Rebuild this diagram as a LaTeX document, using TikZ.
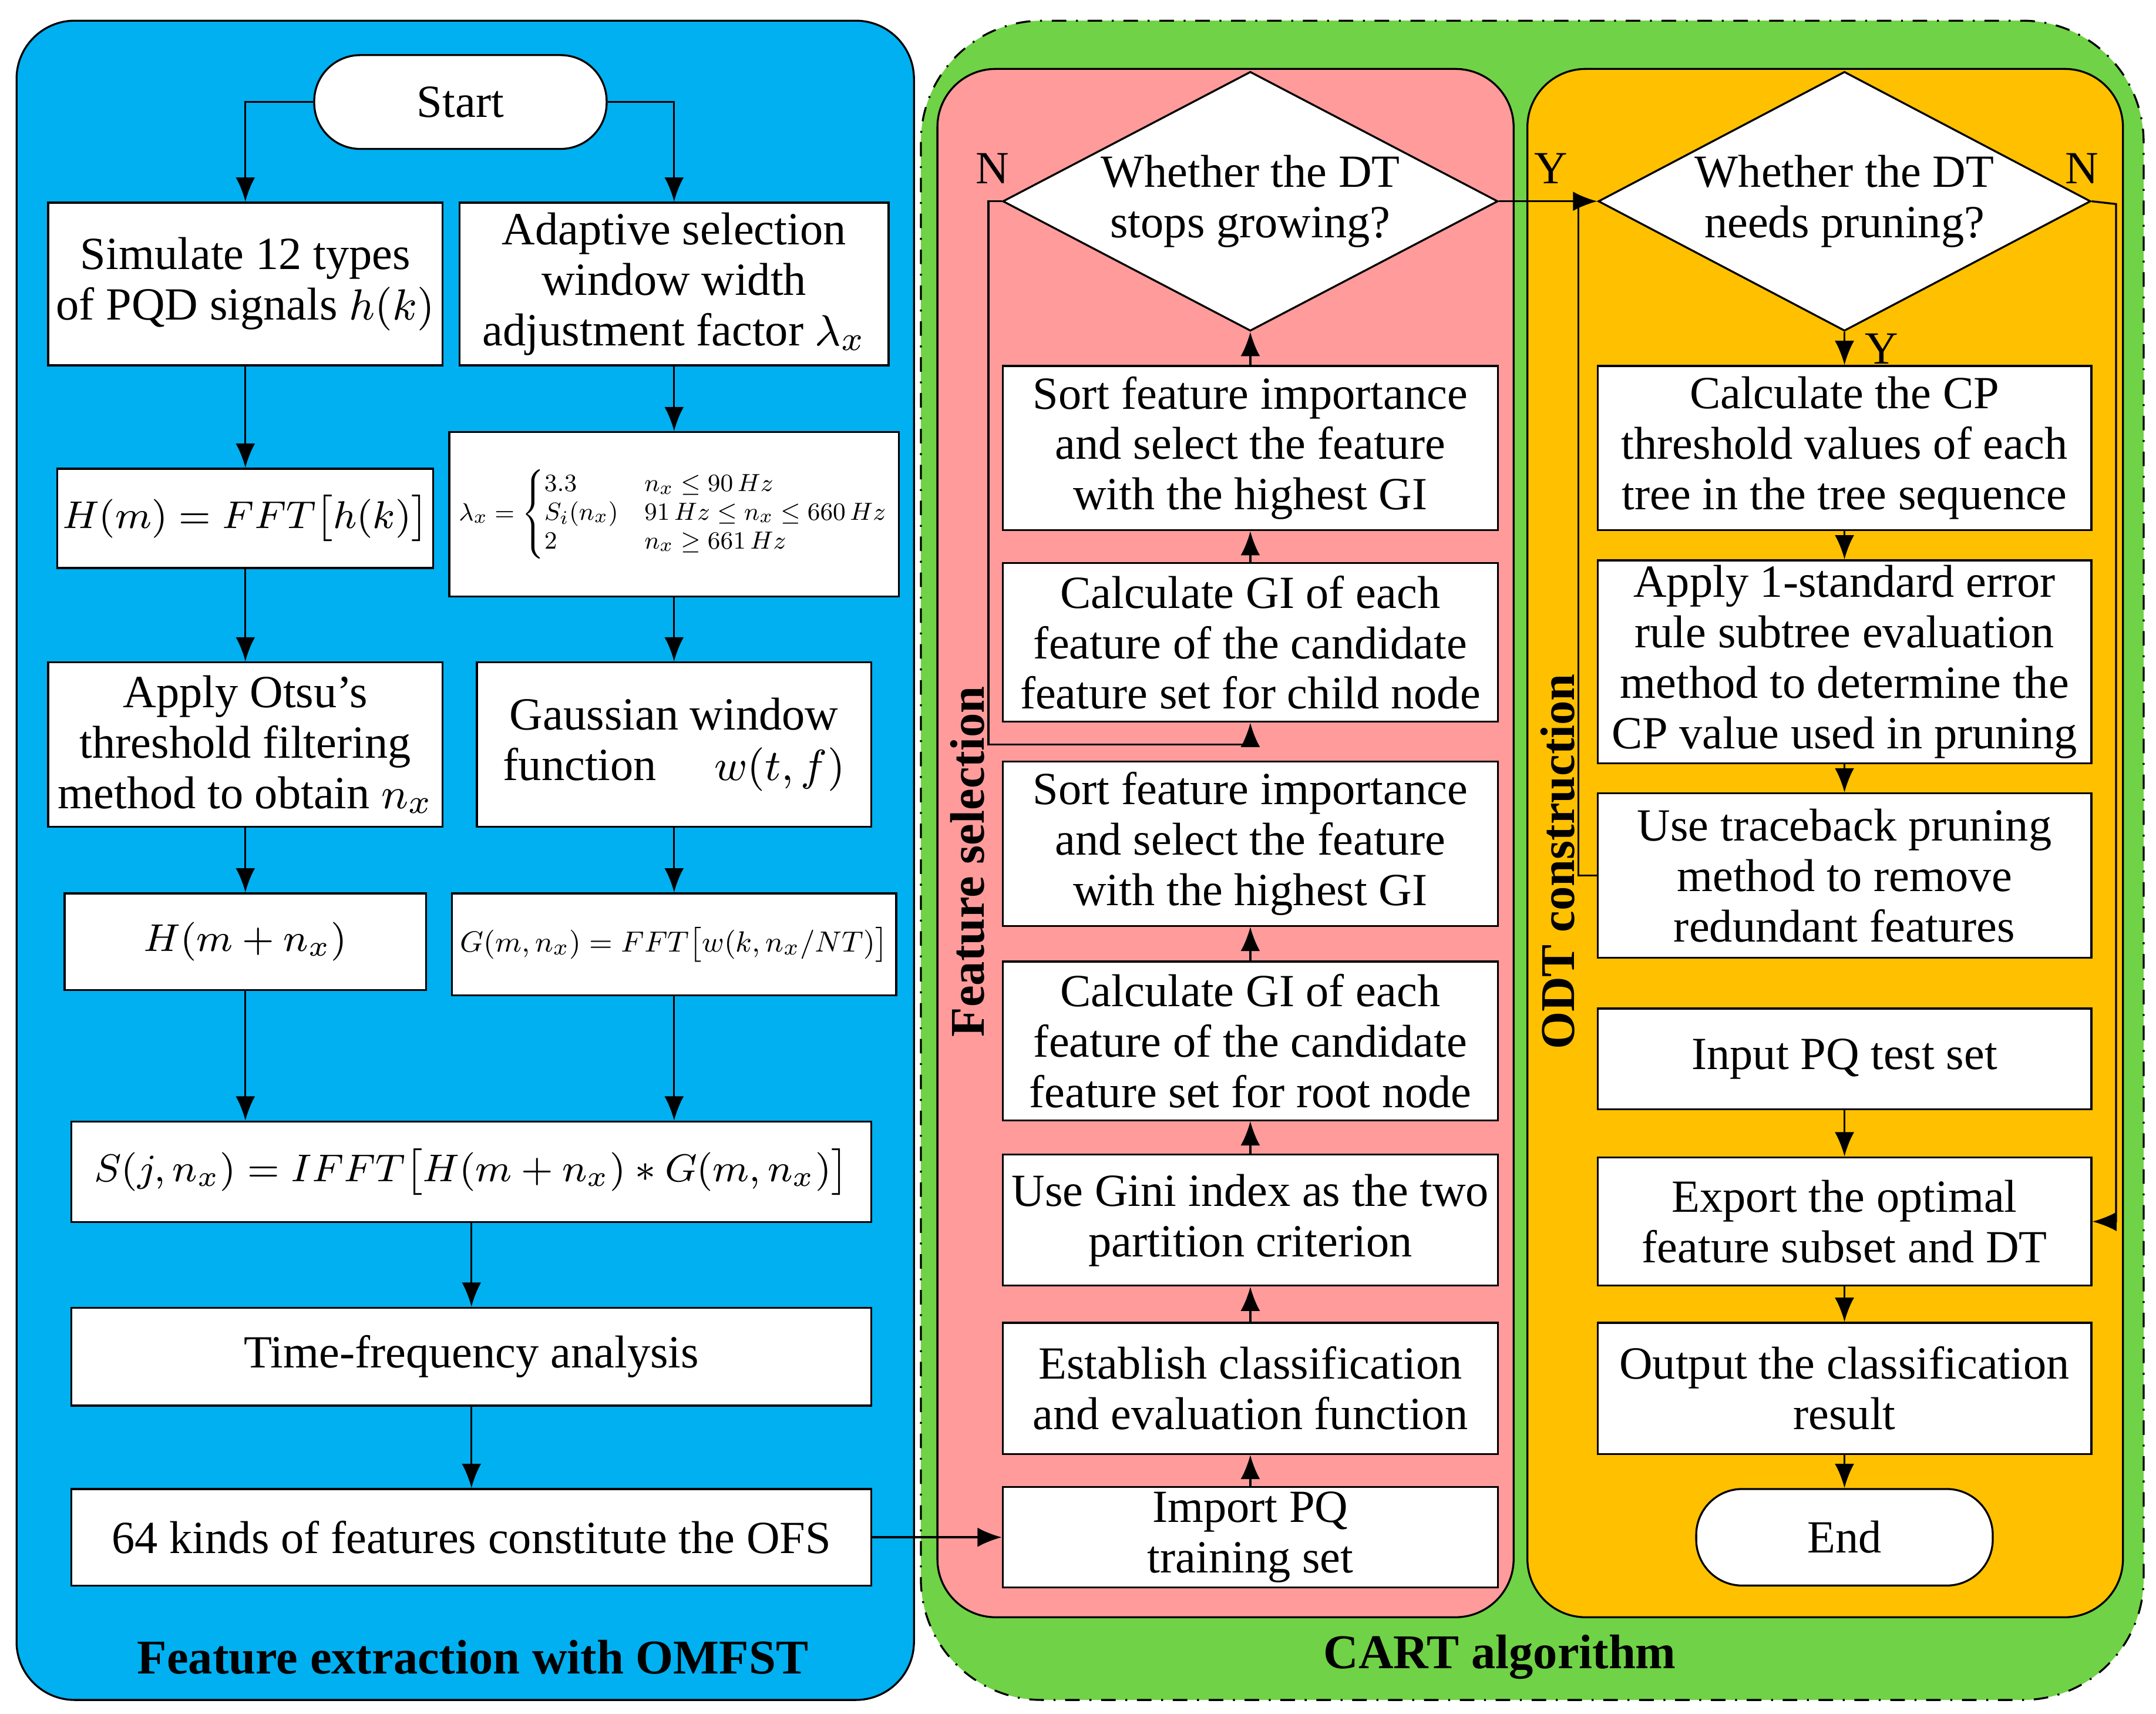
\documentclass[tikz,border=0pt]{standalone}
\usepackage{amsmath}
\usepackage{graphicx}
\usepackage{fontspec}
\setmainfont{Liberation Serif}
\usepackage{tikz}
\usetikzlibrary{
	positioning,
	arrows.meta,
	calc,
	shapes.geometric
}
\definecolor{panelblue}{RGB}{0,176,240}
\definecolor{panelgreen}{RGB}{112,210,70}
\definecolor{panelpink}{RGB}{255,155,155}
\definecolor{panelorange}{RGB}{255,192,0}

\begin{document}
\begin{tikzpicture}[
	x=0.01cm, y=-0.01cm,
	>={Latex[length=5pt,width=4pt]},
	font=\fontsize{9.5}{10.4}\selectfont,
	box/.style={draw, fill=white, align=center, inner sep=1pt},
	mathbox/.style={box, font=\fontsize{8}{9}\selectfont},
	term/.style={draw, fill=white, rounded corners=9.5pt, align=center},
	decision/.style={draw, fill=white, diamond, aspect=1.9, align=center, inner sep=0pt},
	arr/.style={->, thin},
	panel/.style={draw, rounded corners=12pt},
	title/.style={font=\fontsize{10}{12}\selectfont\bfseries}
	]
	
	\useasboundingbox (0,0) rectangle (1564,1243);
	
	% --- Pannelli ---
	\draw[panel, fill=panelblue] (12,15) rectangle (663,1233);
	\draw[panel, fill=panelgreen, dash dot, rounded corners=25pt] (668,15) rectangle (1555,1233);
	\draw[panel, fill=panelpink] (680,50) rectangle (1098,1173);
	\draw[panel, fill=panelorange] (1108,50) rectangle (1540,1173);
	
	\node[title] (tomf) at (343,1202) {Feature extraction with OMFST};
	\node[title] (tcart) at (1088,1202) {CART algorithm};
	\node[title, rotate=90] (tfs) at (702,625) {Feature selection};
	\node[title, rotate=90] (todt) at (1130,625) {ODT construction};
	
	% ==================================================================
	% --- Estrazione delle feature (Sinistra) ---
	% ==================================================================
	\node[term, minimum width=2.12cm, minimum height=0.68cm] (start) at (334,74) {Start};
	\node[box, minimum width=2.86cm, minimum height=1.18cm] (sim) at (178,206) {Simulate 12 types\\of PQD signals $h(k)$};
	\node[box, minimum width=3.11cm, minimum height=1.18cm] (adapt) at (489,206) {Adaptive selection\\window width\\adjustment factor $\lambda_x$};
	\node[mathbox, minimum width=2.61cm, minimum height=0.72cm] (hm) at (178,376) {$H(m)=FFT\big[h(k)\big]$};
	\node[box, minimum width=3.26cm, minimum height=1.19cm] (lam) at (489,373)
		{\resizebox{3.12cm}{!}{$\lambda_x=\left\{\begin{array}{@{}l@{\quad}l@{}}3.3 & n_x\le 90\,Hz\\ S_i(n_x) & 91\,Hz\le n_x\le 660\,Hz\\ 2 & n_x\ge 661\,Hz\end{array}\right.$}};
	\node[box, minimum width=2.86cm, minimum height=1.19cm] (otsu) at (178,540) {Apply Otsu's\\threshold filtering\\method to obtain $n_x$};
	\node[box, minimum width=2.86cm, minimum height=1.19cm] (gauss) at (489,540) {Gaussian window\\function \quad $w(t,f)$};
	\node[mathbox, minimum width=2.62cm, minimum height=0.70cm] (hmn) at (178,683) {$H(m+n_x)$};
	\node[box, minimum width=3.22cm, minimum height=0.74cm] (gmn) at (489,685) {\resizebox{3.1cm}{!}{$G(m,n_x)=FFT\big[w(k,n_x/NT)\big]$}};
	\node[mathbox, minimum width=5.80cm, minimum height=0.73cm] (sjn) at (342,850) {$S(j,n_x)=IFFT\big[H(m+n_x)*G(m,n_x)\big]$};
	\node[box, minimum width=5.80cm, minimum height=0.71cm] (tfa) at (342,984) {Time-frequency analysis};
	\node[box, minimum width=5.80cm, minimum height=0.70cm] (ofs) at (342,1115) {64 kinds of features constitute the OFS};
	
	\draw[arr] (start.west) -| (sim.north);
	\draw[arr] (start.east) -| (adapt.north);
	\draw[arr] (sim) -- (hm);
	\draw[arr] (hm) -- (otsu);
	\draw[arr] (otsu) -- (hmn);
	\draw[arr] (hmn) -- (hmn.south |- sjn.north);
	\draw[arr] (adapt) -- (lam);
	\draw[arr] (lam) -- (gauss);
	\draw[arr] (gauss) -- (gmn);
	\draw[arr] (gmn) -- (gmn.south |- sjn.north);
	\draw[arr] (sjn) -- (tfa);
	\draw[arr] (tfa) -- (ofs);
	
	% ==================================================================
	% --- Selezione delle feature (Centro) ---
	% ==================================================================
	\node[box, minimum width=3.59cm, minimum height=0.70cm] (imp) at (907,1115) {Import PQ\\training set};
	\node[box, minimum width=3.59cm, minimum height=0.95cm] (est) at (907,1007) {Establish classification\\and evaluation function};
	\node[box, minimum width=3.59cm, minimum height=0.95cm] (gini) at (907,885) {Use Gini index as the two\\partition criterion};
	\node[box, minimum width=3.59cm, minimum height=1.15cm] (root) at (907,755) {Calculate GI of each\\feature of the candidate\\feature set for root node};
	\node[box, minimum width=3.59cm, minimum height=1.19cm] (sortb) at (907,612) {Sort feature importance\\and select the feature\\with the highest GI};
	\node[box, minimum width=3.59cm, minimum height=1.15cm] (child) at (907,466) {Calculate GI of each\\feature of the candidate\\feature set for child node};
	\node[box, minimum width=3.59cm, minimum height=1.19cm] (sorta) at (907,325) {Sort feature importance\\and select the feature\\with the highest GI};
	\node[decision, minimum width=3.59cm, minimum height=1.88cm] (grow) at (907,146) {Whether the DT\\stops growing?};
	
	\draw[arr] (ofs) -- (imp);
	\draw[arr] (imp) -- (est);
	\draw[arr] (est) -- (gini);
	\draw[arr] (gini) -- (root);
	\draw[arr] (root) -- (sortb);
	\draw[arr] (child) -- (sorta);
	\draw[arr] (sorta) -- (grow);
	\coordinate (loopn) at (717,540);
	\draw[arr] (grow.west) -| (loopn) -| (child.south);
	\node (ln) at (720,122) {N};
	
	% ==================================================================
	% --- Costruzione ODT (Destra) ---
	% ==================================================================
	\node[decision, minimum width=3.57cm, minimum height=1.88cm] (prune) at (1338,146) {Whether the DT\\needs pruning?};
	\node[box, minimum width=3.58cm, minimum height=1.19cm] (cp) at (1338,325) {Calculate the CP\\threshold values of each\\tree in the tree sequence};
	\node[box, minimum width=3.58cm, minimum height=1.43cm] (rule) at (1338,480) {Apply 1-standard error\\rule subtree evaluation\\method to determine the\\CP value used in pruning};
	\node[box, minimum width=3.58cm, minimum height=1.19cm] (trace) at (1338,635) {Use traceback pruning\\method to remove\\redundant features};
	\node[box, minimum width=3.58cm, minimum height=0.73cm] (test) at (1338,768) {Input PQ test set};
	\node[box, minimum width=3.58cm, minimum height=0.93cm] (export) at (1338,886) {Export the optimal\\feature subset and DT};
	\node[box, minimum width=3.58cm, minimum height=0.95cm] (outp) at (1338,1007) {Output the classification\\result};
	\node[term, minimum width=2.15cm, minimum height=0.70cm] (stop) at (1338,1115) {End};
	
	\coordinate (join) at (1145,148);
	\coordinate (loopr) at (1535,148);
	\draw[arr] (grow.east) -- (prune.west);
	\draw (trace.west) -| (join);
	\draw[arr] (prune.east) -- (loopr) |- (export.east);
	\draw[arr] (prune) -- (cp);
	\draw[arr] (cp) -- (rule);
	\draw[arr] (rule) -- (trace);
	\draw[arr] (test) -- (export);
	\draw[arr] (export) -- (outp);
	\draw[arr] (outp) -- (stop);
	\node (ly1) at (1125,122) {Y};
	\node (ln2) at (1510,122) {N};
	\node (ly2) at (1365,253) {Y};
\end{tikzpicture}
\end{document}
